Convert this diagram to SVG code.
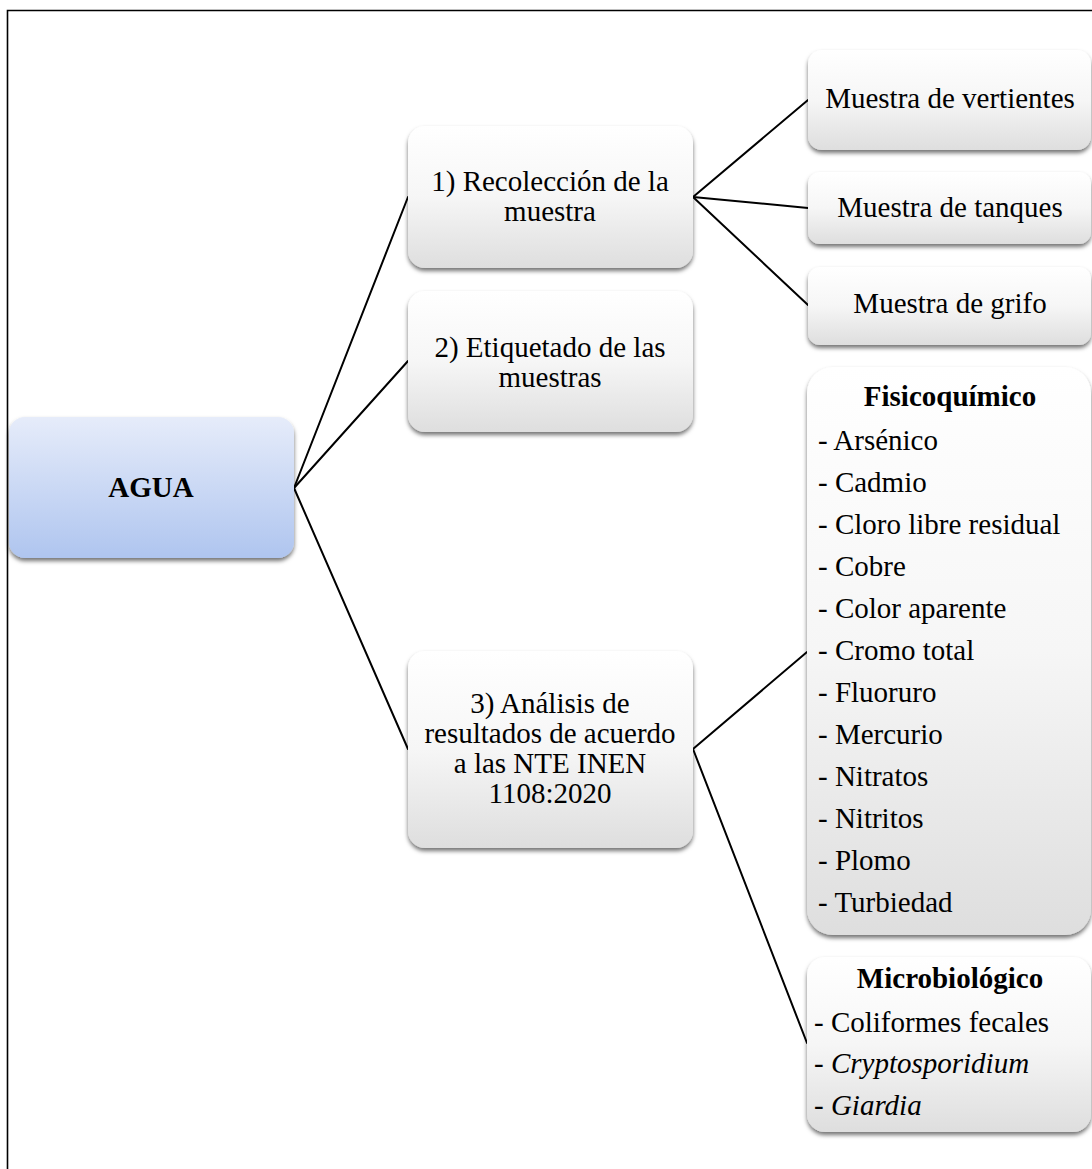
<svg xmlns="http://www.w3.org/2000/svg" width="1092" height="1169" viewBox="0 0 1092 1169">
<style>
text{font-family:"Liberation Serif","Times New Roman",serif;font-size:29px;fill:#000}
.c{text-anchor:middle}
.b{font-weight:bold}
.i{font-style:italic}
.box{fill:url(#gw);filter:url(#sh)}
.conn line{stroke:#000;stroke-width:2;stroke-linecap:round}
.frame{stroke:#000;stroke-width:1.6;fill:none}
</style>
<defs>
<linearGradient id="gw" x1="0" y1="0" x2="0" y2="1">
<stop offset="0" stop-color="#ffffff"/>
<stop offset="0.5" stop-color="#f6f6f6"/>
<stop offset="1" stop-color="#dedede"/>
</linearGradient>
<linearGradient id="gb" x1="0" y1="0" x2="0" y2="1">
<stop offset="0" stop-color="#e6ecfa"/>
<stop offset="1" stop-color="#afc5ef"/>
</linearGradient>
<filter id="sh" x="-10%" y="-10%" width="120%" height="125%">
<feDropShadow dx="0" dy="3" stdDeviation="2.2" flood-color="#000" flood-opacity="0.55"/>
</filter>
</defs>
<rect width="1092" height="1169" fill="#fff"/>
<path class="frame" d="M7.5 1169 V10.5 H1092"/>
<g class="conn">
<line x1="294" y1="488" x2="408" y2="197"/>
<line x1="294" y1="488" x2="408" y2="361"/>
<line x1="294" y1="488" x2="408" y2="749"/>
<line x1="693" y1="197" x2="808" y2="100"/>
<line x1="693" y1="197" x2="808" y2="208"/>
<line x1="693" y1="197" x2="808" y2="305"/>
<line x1="693" y1="749" x2="807" y2="652"/>
<line x1="693" y1="749" x2="807" y2="1043"/>
</g>
<g id="agua">
<rect x="9" y="417" width="285" height="141" rx="16" fill="url(#gb)" filter="url(#sh)"/>
<text class="c b" x="151" y="497">AGUA</text>
</g>
<g id="n1">
<rect class="box" x="408" y="126" width="285" height="142" rx="17"/>
<text class="c" x="550" y="191">1) Recolección de la</text>
<text class="c" x="550" y="221">muestra</text>
</g>
<g id="n2">
<rect class="box" x="408" y="291" width="285" height="141" rx="17"/>
<text class="c" x="550" y="357">2) Etiquetado de las</text>
<text class="c" x="550" y="387">muestras</text>
</g>
<g id="n3">
<rect class="box" x="408" y="651" width="285" height="197" rx="17"/>
<text class="c" x="550" y="713">3) Análisis de</text>
<text class="c" x="550" y="743">resultados de acuerdo</text>
<text class="c" x="550" y="773">a las NTE INEN</text>
<text class="c" x="550" y="803">1108:2020</text>
</g>
<g id="vertientes">
<rect class="box" x="808" y="50" width="283" height="100" rx="14"/>
<text class="c" x="950" y="108">Muestra de vertientes</text>
</g>
<g id="tanques">
<rect class="box" x="808" y="172" width="283" height="72" rx="12"/>
<text class="c" x="950" y="217">Muestra de tanques</text>
</g>
<g id="grifo">
<rect class="box" x="808" y="267" width="283" height="78" rx="12"/>
<text class="c" x="950" y="313">Muestra de grifo</text>
</g>
<g id="fisico">
<rect class="box" x="807" y="367" width="284" height="568" rx="26"/>
<text class="c b" x="950" y="406">Fisicoquímico</text>
<text x="818" y="450">- Arsénico</text>
<text x="818" y="492">- Cadmio</text>
<text x="818" y="534">- Cloro libre residual</text>
<text x="818" y="576">- Cobre</text>
<text x="818" y="618">- Color aparente</text>
<text x="818" y="660">- Cromo total</text>
<text x="818" y="702">- Fluoruro</text>
<text x="818" y="744">- Mercurio</text>
<text x="818" y="786">- Nitratos</text>
<text x="818" y="828">- Nitritos</text>
<text x="818" y="870">- Plomo</text>
<text x="818" y="912">- Turbiedad</text>
</g>
<g id="micro">
<rect class="box" x="807" y="957" width="284" height="175" rx="18"/>
<text class="c b" x="950" y="988">Microbiológico</text>
<text x="814" y="1032">- Coliformes fecales</text>
<text class="i" x="814" y="1073">- Cryptosporidium</text>
<text class="i" x="814" y="1115">- Giardia</text>
</g>
</svg>
